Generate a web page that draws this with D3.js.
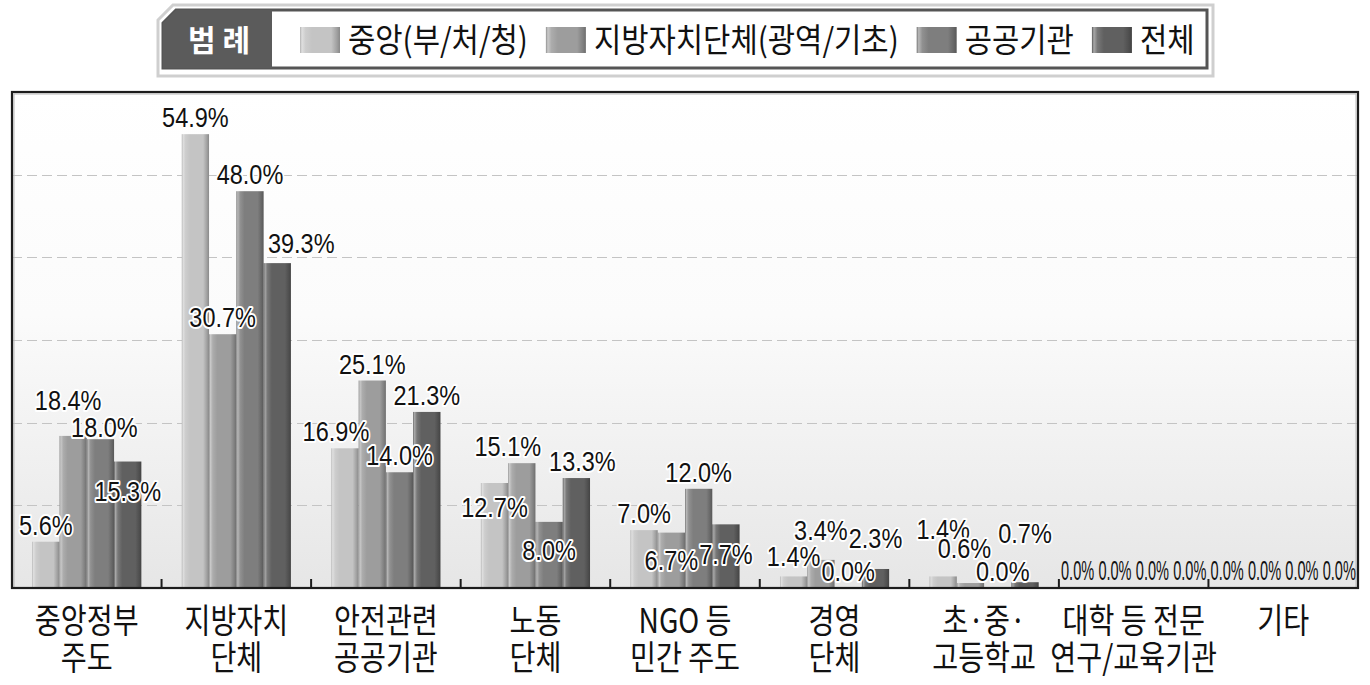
<!DOCTYPE html>
<html><head><meta charset="utf-8">
<script src="https://cdn.jsdelivr.net/npm/d3@7"></script>
<style>
html,body{margin:0;padding:0;background:#fff;}
svg{display:block;}
</style></head>
<body>
<svg id="chart" width="1370" height="685"></svg>
<script>
// ---- data ----
const categories = ["중앙정부\n주도","지방자치\n단체","안전관련\n공공기관","노동\n단체","NGO 등\n민간 주도","경영\n단체","초·중·\n고등학교","대학 등 전문\n연구/교육기관","기타"];
const seriesNames = ["중앙(부/처/청)","지방자치단체(광역/기초)","공공기관","전체"];
const central   = [5.6, 54.9, 16.9, 12.7, 7.0, 1.4, 1.4, 0.0, 0.0];
const local     = [18.4, 30.7, 25.1, 15.1, 6.7, 3.4, 0.6, 0.0, 0.0];
const publicOrg = [18.0, 48.0, 14.0, 8.0, 12.0, 0.0, 0.0, 0.0, 0.0];
const total     = [15.3, 39.3, 21.3, 13.3, 7.7, 2.3, 0.7, 0.0, 0.0];
const yTicks = [10, 20, 30, 40, 50];

// ---- layout / style (not data) ----
const seriesValues = [central, local, publicOrg, total];
const baseColors = ["#c4c4c4", "#9d9d9d", "#7e7e7e", "#606060"];
// manual label nudges [dx, dy] to reproduce the original label placement
const labelNudge = [
  [[0,0],[0,0],[-9,0],[0,41],[0,0],[0,-4],[0,-31],[0,0],[0,0]],
  [[-5,-19],[0,0],[0,0],[-14,0],[0,44],[0,-13],[-6,-18],[0,0],[0,0]],
  [[4,5],[0,0],[0,0],[0,45],[0,0],[0,0],[5,0],[0,0],[0,0]],
  [[0,46],[24,-3],[0,0],[6,0],[0,46],[0,-14],[0,-32],[0,0],[0,0]]
];

const svg = d3.select("#chart");
const defs = svg.append("defs");

const plot = {left: 12, right: 1358, top: 92, bottom: 588};

// background gradient
const bg = defs.append("linearGradient").attr("id","bgGrad").attr("x1",0).attr("y1",0).attr("x2",0).attr("y2",1);
bg.append("stop").attr("offset","0%").attr("stop-color","#ffffff");
bg.append("stop").attr("offset","45%").attr("stop-color","#fbfbfb");
bg.append("stop").attr("offset","100%").attr("stop-color","#e6e6e6");

// bar gradients
baseColors.forEach((c,i)=>{
  const base = d3.color(c);
  const g = defs.append("linearGradient").attr("id","barGrad"+i).attr("x1",0).attr("y1",0).attr("x2",1).attr("y2",0);
  const stops = [
    [0, d3.interpolateRgb(base, "#000")(0.08)],
    [0.05, d3.interpolateRgb(base, "#fff")(0.45)],
    [0.14, d3.interpolateRgb(base, "#fff")(0.15)],
    [0.3, base.formatHex()],
    [0.78, base.formatHex()],
    [0.92, d3.interpolateRgb(base, "#000")(0.18)],
    [1, d3.interpolateRgb(base, "#000")(0.3)]
  ];
  stops.forEach(s=>g.append("stop").attr("offset",(s[0]*100)+"%").attr("stop-color",s[1]));
});

// scales
const x0 = d3.scaleBand().domain(d3.range(categories.length)).range([plot.left, plot.right]).paddingInner(0).paddingOuter(0);
const x1 = d3.scaleBand().domain(d3.range(seriesValues.length)).range([0, x0.bandwidth()]).paddingInner(0).paddingOuter(0.74);
const y = d3.scaleLinear().domain([0, 60]).range([plot.bottom, plot.top]);

// plot background
svg.append("rect").attr("x",plot.left).attr("y",plot.top).attr("width",plot.right-plot.left).attr("height",plot.bottom-plot.top)
  .attr("fill","url(#bgGrad)");

// gridlines
svg.append("g").selectAll("line").data(yTicks).join("line")
  .attr("x1",plot.left).attr("x2",plot.right)
  .attr("y1",d=>Math.round(y(d))+0.5).attr("y2",d=>Math.round(y(d))+0.5)
  .attr("stroke","#c4c4c4").attr("stroke-width",1.2).attr("stroke-dasharray","10,5");

// bars
const barG = svg.append("g");
seriesValues.forEach((vals,si)=>{
  barG.append("g").selectAll("rect").data(vals).join("rect")
    .attr("x",(d,ci)=>x0(ci)+x1(si))
    .attr("y",d=>y(d))
    .attr("width",x1.bandwidth())
    .attr("height",d=>y(0)-y(d))
    .attr("fill","url(#barGrad"+si+")");
});

// frame
svg.append("rect").attr("x",plot.left+2).attr("y",plot.top+2).attr("width",plot.right-plot.left-4).attr("height",plot.bottom-plot.top-2)
  .attr("fill","none").attr("stroke","#b8b8b8").attr("stroke-width",1);
svg.append("rect").attr("x",plot.left).attr("y",plot.top).attr("width",plot.right-plot.left).attr("height",plot.bottom-plot.top)
  .attr("fill","none").attr("stroke","#1c1c1c").attr("stroke-width",2.2);

// category boundary ticks
svg.append("g").selectAll("line").data(d3.range(1, categories.length)).join("line")
  .attr("x1",d=>x0(d)).attr("x2",d=>x0(d)).attr("y1",plot.bottom).attr("y2",plot.bottom-9)
  .attr("stroke","#1c1c1c").attr("stroke-width",2);

// value labels
const labelFont = "'Liberation Sans', Arial, sans-serif";
const labG = svg.append("g");
seriesValues.forEach((vals,si)=>{
  vals.forEach((v,ci)=>{
    const allZero = seriesValues.every(s=>s[ci]===0);
    let cx, cy, sx;
    if (allZero) {
      cx = x0(ci) + x0.bandwidth()*(si+0.5)/seriesValues.length;
      cy = y(v) - 18;
      sx = 0.52;
    } else {
      const n = labelNudge[si][ci];
      cx = x0(ci) + x1(si) + x1.bandwidth()/2 + n[0];
      cy = y(v) - 17 + n[1];
      sx = 0.84;
    }
    labG.append("text")
      .attr("transform",`translate(${cx},${cy+10.2}) scale(${sx},1)`)
      .attr("text-anchor","middle")
      .attr("font-family",labelFont).attr("font-size",28)
      .attr("fill","#111")
      .attr("stroke","#fff").attr("stroke-width",allZero?0:4).attr("stroke-linejoin","round")
      .attr("paint-order","stroke")
      .text(v.toFixed(1)+"%");
  });
});

// category labels (one text per category, lines as tspans)
const catFont = "'Noto Sans CJK KR', 'Noto Sans', sans-serif";
const catG = svg.append("g");
categories.forEach((c,ci)=>{
  const lines = c.split("\n");
  const cx = x0(ci) + x0.bandwidth()/2;
  const t = catG.append("text")
    .attr("transform",`translate(${cx},633) scale(0.83,1)`)
    .attr("text-anchor","middle")
    .attr("font-family",catFont).attr("font-size",34)
    .attr("fill","#111");
  lines.forEach((ln,li)=>{
    t.append("tspan").attr("x",0).attr("y",li*37).text(ln);
  });
});

// legend
const lg = svg.append("g");
lg.append("path").attr("d","M158,20 L173,5 L1213,5 L1213,76 L158,76 Z")
  .attr("fill","#fff").attr("stroke","#cfcfcf").attr("stroke-width",3);
lg.append("path").attr("d","M163,23 L176,10 L1207,10 L1207,68 L163,68 Z")
  .attr("fill","#fff").attr("stroke","#555").attr("stroke-width",3);
lg.append("path").attr("d","M163,23 L176,10 L272,10 L272,68 L163,68 Z")
  .attr("fill","#5b5b5b");
lg.append("text").attr("x",219).attr("y",51).attr("text-anchor","middle")
  .attr("font-family",catFont).attr("font-size",30).attr("font-weight","bold")
  .attr("fill","#fff").text("범 례");

let lx = 300;
seriesNames.forEach((name,i)=>{
  lg.append("rect").attr("x",lx).attr("y",27).attr("width",40).attr("height",26)
    .attr("fill","url(#barGrad"+i+")");
  const t = lg.append("text")
    .attr("transform",`translate(${lx+48},52) scale(0.9,1)`)
    .attr("font-family",catFont).attr("font-size",33).attr("fill","#111")
    .text(name);
  const w = t.node().getComputedTextLength()*0.9;
  lx = lx + 48 + w + 18;
});
</script>
</body></html>
